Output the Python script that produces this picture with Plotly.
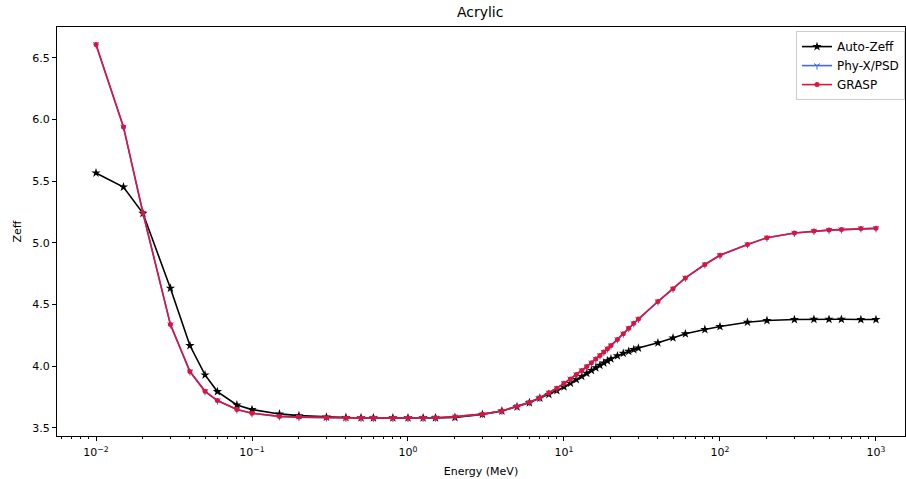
import plotly.graph_objects as go

energy = [0.01, 0.015, 0.02, 0.03, 0.04, 0.05, 0.06, 0.08, 0.1, 0.15, 0.2, 0.3, 0.4, 0.5, 0.6, 0.8,
          1, 1.25, 1.5, 2, 3, 4, 5, 6, 7, 8, 9, 10, 11, 12, 13, 14, 15, 16, 17, 18, 19, 20,
          22, 24, 26, 28, 30, 40, 50, 60, 80, 100, 150, 200, 300, 400, 500, 600, 800, 1000]

auto_zeff = [5.567, 5.453, 5.24, 4.633, 4.168, 3.93, 3.795, 3.687, 3.649, 3.614, 3.60, 3.588, 3.585, 3.583, 3.582, 3.582,
             3.582, 3.582, 3.582, 3.585, 3.61, 3.638, 3.672, 3.705, 3.742, 3.772, 3.803, 3.833, 3.863, 3.892, 3.918, 3.943, 3.966, 3.988, 4.008, 4.027, 4.044, 4.06,
             4.085, 4.105, 4.121, 4.135, 4.148, 4.19, 4.23, 4.263, 4.298, 4.322, 4.357, 4.371, 4.379, 4.381, 4.381, 4.381, 4.379, 4.379]

phyx_psd = [6.609, 5.94, 5.242, 4.338, 3.957, 3.797, 3.722, 3.649, 3.619, 3.594, 3.588, 3.583, 3.581, 3.58, 3.58, 3.58,
            3.58, 3.581, 3.583, 3.592, 3.612, 3.637, 3.675, 3.708, 3.745, 3.785, 3.823, 3.862, 3.898, 3.933, 3.966, 3.998, 4.029, 4.059, 4.088, 4.116, 4.143, 4.168,
            4.218, 4.264, 4.308, 4.348, 4.383, 4.525, 4.628, 4.716, 4.825, 4.90, 4.988, 5.042, 5.08, 5.096, 5.104, 5.108, 5.117, 5.118]

grasp = [6.609, 5.94, 5.242, 4.338, 3.957, 3.797, 3.722, 3.649, 3.619, 3.594, 3.588, 3.583, 3.581, 3.58, 3.58, 3.58,
         3.58, 3.581, 3.583, 3.592, 3.612, 3.637, 3.675, 3.708, 3.745, 3.785, 3.823, 3.862, 3.898, 3.933, 3.966, 3.998, 4.029, 4.059, 4.088, 4.116, 4.143, 4.168,
         4.218, 4.264, 4.308, 4.348, 4.383, 4.525, 4.628, 4.716, 4.825, 4.90, 4.988, 5.042, 5.08, 5.096, 5.104, 5.108, 5.117, 5.118]

x_tickvals = [0.01, 0.1, 1, 10, 100, 1000]
x_ticktext = ["10<sup>−2</sup>", "10<sup>−1</sup>", "10<sup>0</sup>", "10<sup>1</sup>", "10<sup>2</sup>", "10<sup>3</sup>"]
y_tickvals = [3.5, 4.0, 4.5, 5.0, 5.5, 6.0, 6.5]

minor_vals = [m * d for d in [0.001, 0.01, 0.1, 1, 10, 100, 1000] for m in range(2, 10)]

fig = go.Figure()
fig.add_trace(go.Scatter(x=energy, y=auto_zeff, mode="lines+markers", name="Auto-Zeff",
                         line=dict(color="black", width=1.6),
                         marker=dict(symbol="star", size=7, color="black", line=dict(width=0))))
fig.add_trace(go.Scatter(x=energy, y=phyx_psd, mode="lines+markers", name="Phy-X/PSD",
                         line=dict(color="#4169E1", width=1.6),
                         marker=dict(symbol="y-down", size=5, color="#4169E1",
                                     line=dict(width=1, color="#4169E1"))))
fig.add_trace(go.Scatter(x=energy, y=grasp, mode="lines+markers", name="GRASP",
                         line=dict(color="#DC143C", width=1.6),
                         marker=dict(symbol="circle", size=5, color="#DC143C", line=dict(width=0))))

axis_common = dict(showline=True, mirror=True, linecolor="black", linewidth=1,
                   ticks="outside", ticklen=4, tickcolor="black", showgrid=False, zeroline=False,
                   tickfont=dict(family="DejaVu Sans", size=11, color="black"))

fig.update_xaxes(type="log", range=[-2.25, 3.186], tickvals=x_tickvals, ticktext=x_ticktext,
                 ticklabelstandoff=2,
                 title=dict(text="Energy (MeV)", font=dict(family="DejaVu Sans", size=11, color="black"), standoff=9),
                 minor=dict(tickvals=minor_vals, ticks="outside", ticklen=2, tickcolor="black", showgrid=False),
                 **axis_common)
fig.update_yaxes(range=[3.435, 6.75], tickvals=y_tickvals, tickformat=".1f",
                 title=dict(text="Zeff", font=dict(family="DejaVu Sans", size=11, color="black"), standoff=8),
                 **axis_common)

fig.update_layout(
    width=906, height=479,
    margin=dict(l=57, r=1, t=27, b=43),
    paper_bgcolor="white", plot_bgcolor="white",
    title=dict(text="Acrylic", x=0.53, xanchor="center", y=0.985, yanchor="top",
               font=dict(family="DejaVu Sans", size=14, color="black")),
    legend=dict(x=1.0, y=0.99, xanchor="right", yanchor="top",
                bgcolor="rgba(255,255,255,0.85)", bordercolor="#cccccc", borderwidth=1,
                font=dict(family="DejaVu Sans", size=12, color="black"),
                itemwidth=30, tracegroupgap=0),
    showlegend=True,
)

fig.write_html("out.html")
